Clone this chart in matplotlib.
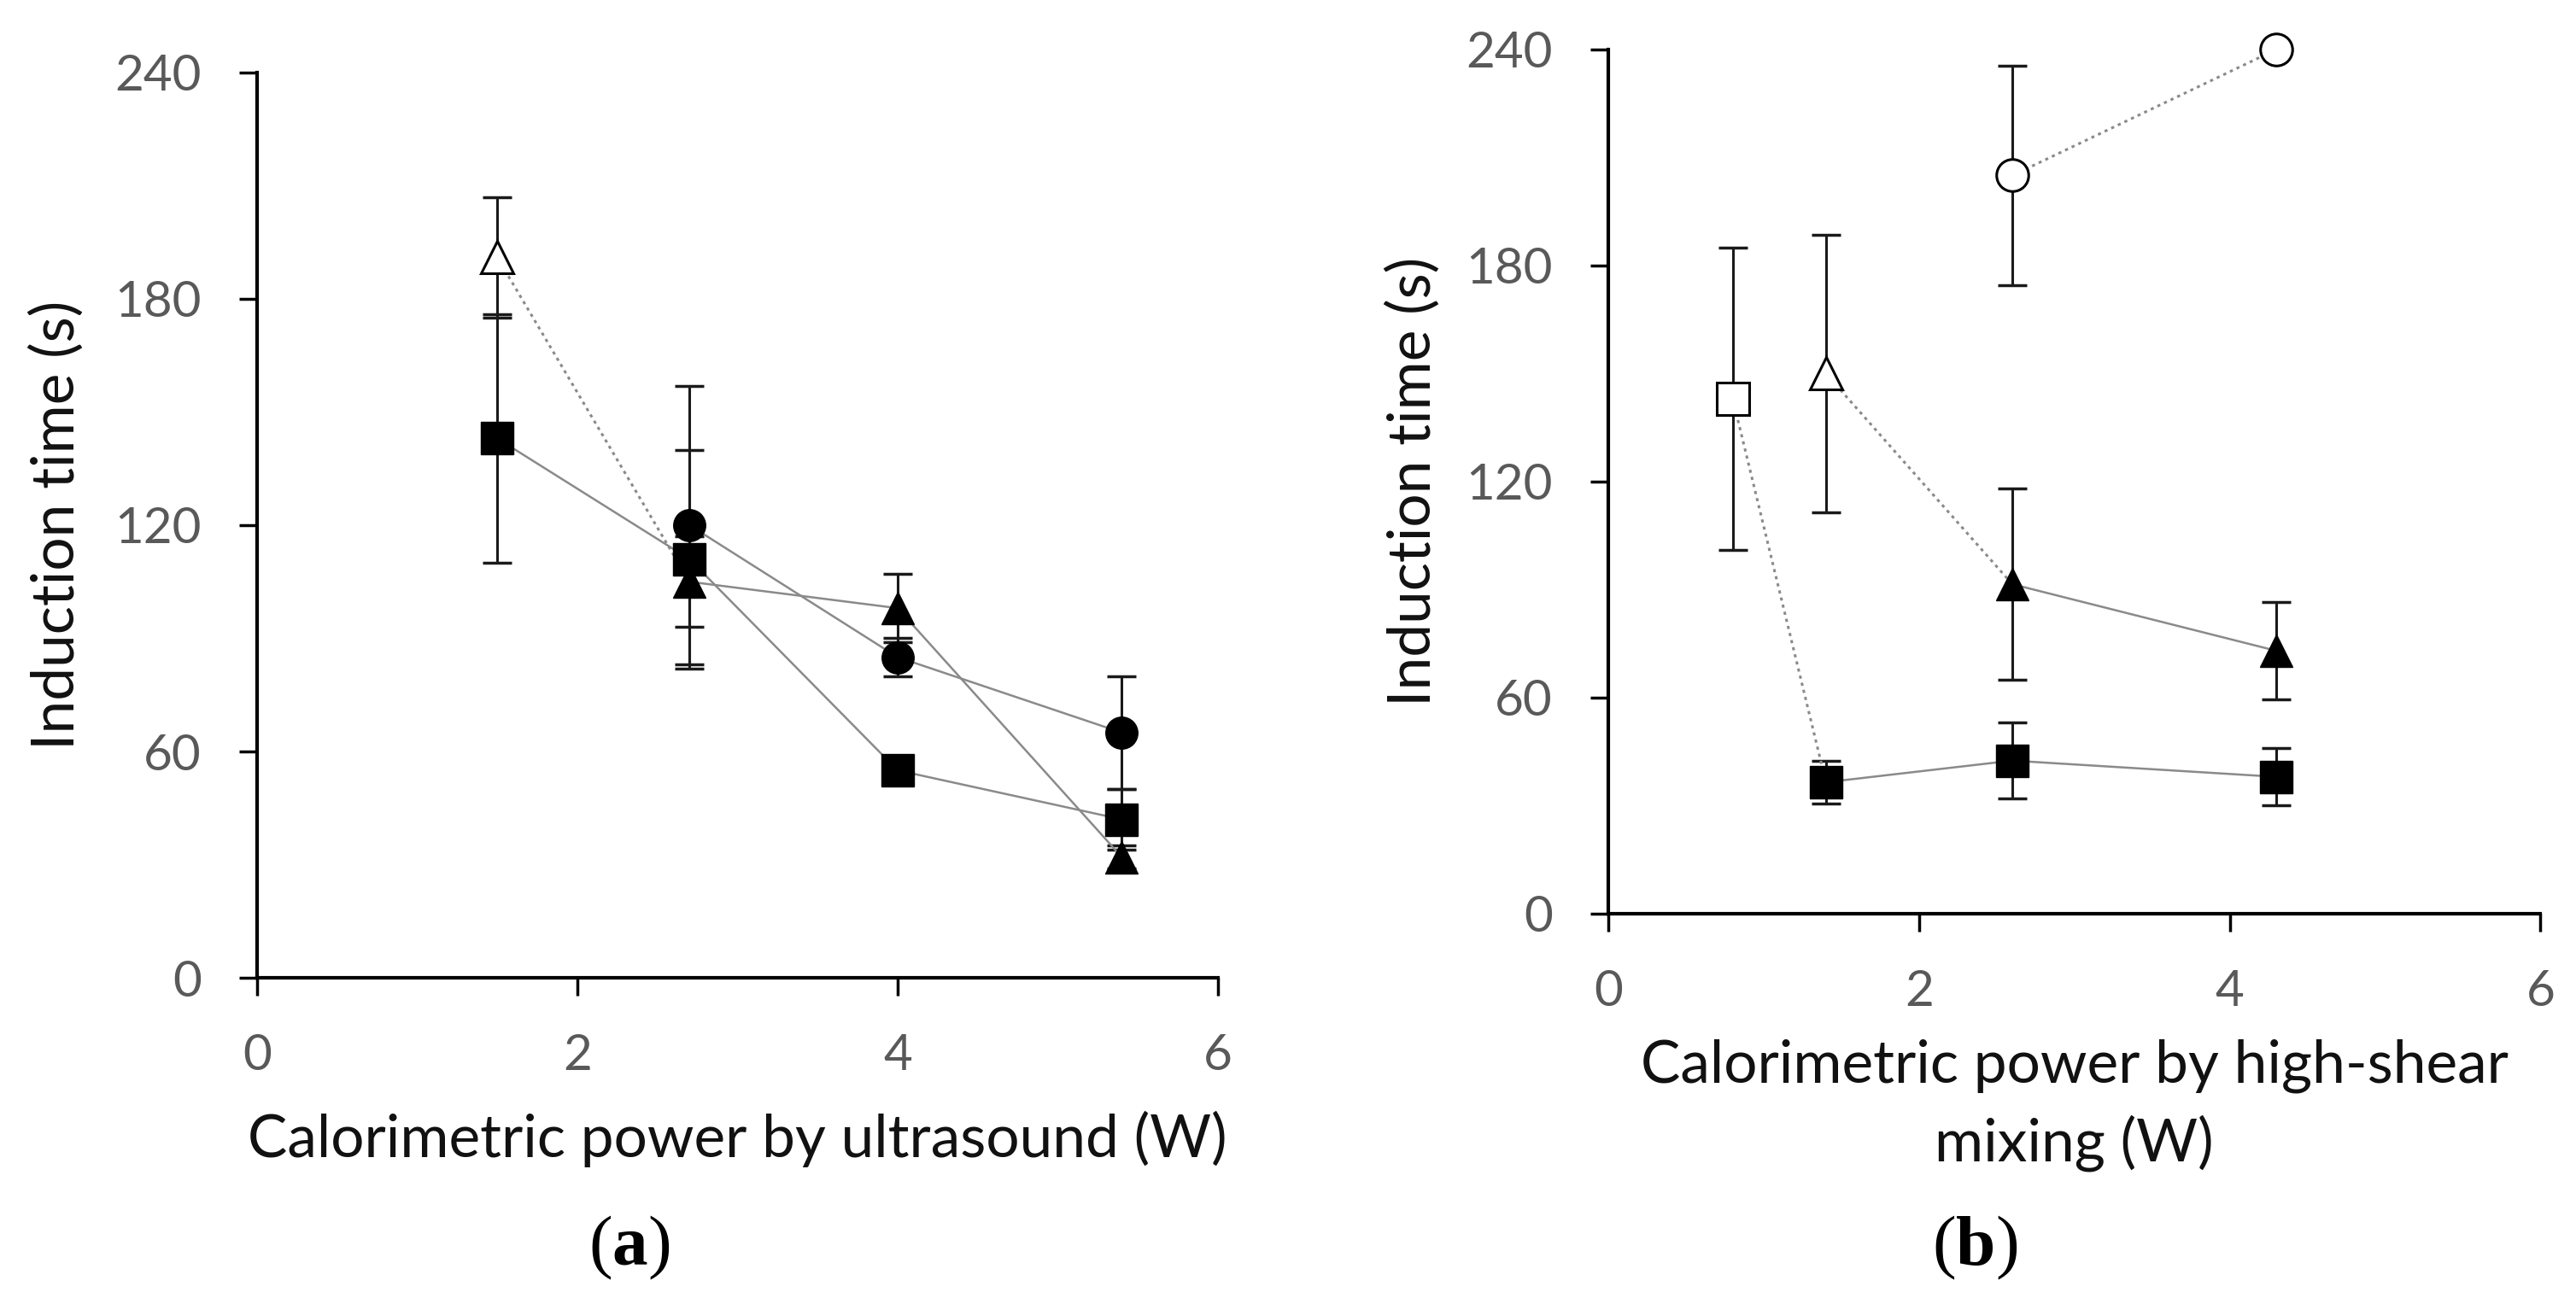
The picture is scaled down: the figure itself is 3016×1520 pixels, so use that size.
import matplotlib
matplotlib.use("Agg")
import matplotlib.pyplot as plt

plt.rcParams['font.family'] = ['Lato', 'DejaVu Sans']
plt.rcParams['mathtext.fontset'] = 'custom'
plt.rcParams['mathtext.rm'] = 'Liberation Serif'
plt.rcParams['mathtext.bf'] = 'Liberation Serif:bold'

# (a) ultrasound: calorimetric power (W) vs induction time (s)
us_sq_x = [1.5, 2.7, 4.0, 5.4]
us_sq_y = [143, 111, 55, 42]
us_sq_err = [33, 29, 3, 8]
us_ci_x = [2.7, 4.0, 5.4]
us_ci_y = [120, 85, 65]
us_ci_err = [37, 5, 15]
us_tri_x = [2.7, 4.0, 5.4]
us_tri_y = [105, 98, 32]
us_tri_err = [12, 9, 3]
us_open_tri_x = [1.5]
us_open_tri_y = [191]
us_open_tri_err = [16]

# (b) high-shear mixing
hs_sq_x = [1.4, 2.6, 4.3]
hs_sq_y = [36.5, 42.5, 38]
hs_sq_err = [6, 10.5, 8]
hs_tri_x = [2.6, 4.3]
hs_tri_y = [91.5, 73]
hs_tri_err = [26.5, 13.5]
hs_open_sq_x = [0.8]
hs_open_sq_y = [143]
hs_open_sq_err = [42]
hs_open_tri_x = [1.4]
hs_open_tri_y = [150]
hs_open_tri_err = [38.5]
hs_open_ci_x = [2.6, 4.3]
hs_open_ci_y = [205, 240]
hs_open_ci_err = [30.5, 0]

x_ticks = [0, 2, 4, 6]
y_ticks = [0, 60, 120, 180, 240]

LINE_GREY = '#8a8a8a'
MSIZE = {'s': 27, 'o': 27, '^': 28}


def draw_series(ax, x, y, err, marker, filled, line=True):
    """Error bars, connecting line and markers for one series."""
    ax.errorbar(x, y, yerr=err, fmt='none', ecolor='#1a1a1a', elinewidth=2.2,
                capsize=12.5, capthick=2.5, zorder=2)
    if line:
        ax.plot(x, y, '-', color=LINE_GREY, lw=1.8, zorder=3)
    ax.plot(x, y, linestyle='none', marker=marker, ms=MSIZE[marker],
            mfc='black' if filled else 'white', mec='black',
            mew=1 if filled else 2.2, zorder=4, clip_on=False)


def dotted(ax, x, y):
    ax.plot(x, y, linestyle=(0, (1.2, 1.6)), color=LINE_GREY, lw=2.2, zorder=3)


def style_axes(ax):
    ax.set_xlim(0, 6)
    ax.set_ylim(0, 240)
    ax.set_xticks(x_ticks)
    ax.set_yticks(y_ticks)
    for side in ['top', 'right']:
        ax.spines[side].set_visible(False)
    for side in ['left', 'bottom']:
        ax.spines[side].set_linewidth(3)
        ax.spines[side].set_color('black')
    ax.tick_params(direction='out', length=15, width=2.5, pad=32,
                   labelsize=42, labelcolor='#595959', color='black')


fig = plt.figure(figsize=(30.16, 15.2), dpi=100)

ax1 = fig.add_axes([0.0998, 0.2467, 0.373, 0.6974])
ax2 = fig.add_axes([0.6244, 0.2961, 0.3618, 0.6658])

# panel (a)
dotted(ax1, us_open_tri_x + us_tri_x[:1], us_open_tri_y + us_tri_y[:1])
draw_series(ax1, us_sq_x, us_sq_y, us_sq_err, 's', True)
draw_series(ax1, us_tri_x, us_tri_y, us_tri_err, '^', True)
draw_series(ax1, us_ci_x, us_ci_y, us_ci_err, 'o', True)
draw_series(ax1, us_open_tri_x, us_open_tri_y, us_open_tri_err, '^', False, line=False)
style_axes(ax1)

# panel (b)
dotted(ax2, hs_open_sq_x + hs_sq_x[:1], hs_open_sq_y + hs_sq_y[:1])
dotted(ax2, hs_open_tri_x + hs_tri_x[:1], hs_open_tri_y + hs_tri_y[:1])
dotted(ax2, hs_open_ci_x, hs_open_ci_y)
draw_series(ax2, hs_sq_x, hs_sq_y, hs_sq_err, 's', True)
draw_series(ax2, hs_tri_x, hs_tri_y, hs_tri_err, '^', True)
draw_series(ax2, hs_open_sq_x, hs_open_sq_y, hs_open_sq_err, 's', False, line=False)
draw_series(ax2, hs_open_tri_x, hs_open_tri_y, hs_open_tri_err, '^', False, line=False)
draw_series(ax2, hs_open_ci_x, hs_open_ci_y, hs_open_ci_err, 'o', False, line=False)
style_axes(ax2)

label_kw = dict(fontsize=50, color='#111111', ha='center', va='baseline')
rot_kw = dict(rotation=90, rotation_mode='anchor')
fig.text(87 / 3016, 0.5957, 'Induction time (s)', **rot_kw, **label_kw)
fig.text(1675 / 3016, 0.629, 'Induction time (s)', **rot_kw, **label_kw)
fig.text(0.2861, 0.1086, 'Calorimetric power by ultrasound (W)', **label_kw)
fig.text(0.8053, 0.1664, 'Calorimetric power by high-shear', **label_kw)
fig.text(0.8053, 0.1053, 'mixing (W)', **label_kw)

cap_kw = dict(fontsize=60, color='black', ha='center', va='baseline')
fig.text(0.2444, 0.0257, r'$\mathrm{(}\mathbf{a}\mathrm{)}$', **cap_kw)
fig.text(0.7666, 0.0257, r'$\mathrm{(}\mathbf{b}\mathrm{)}$', **cap_kw)

fig.savefig('out.png', dpi=100, facecolor='white')
